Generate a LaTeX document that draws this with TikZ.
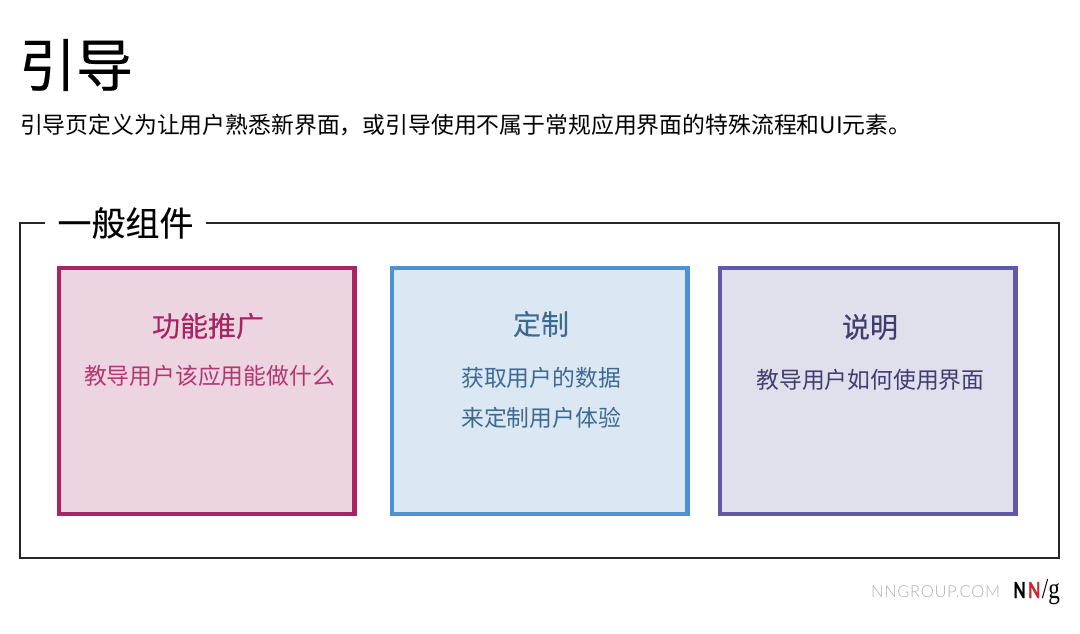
\documentclass[tikz,border=0pt]{standalone}
\usepackage{fontspec}
\setmainfont{Noto Sans CJK SC}
\newfontfamily\medf[FakeBold=0.4]{Noto Sans CJK SC}
\newfontfamily\semif[FakeBold=0.3]{Noto Sans CJK SC}
\newfontfamily\headf[FakeBold=0.2]{Noto Sans CJK SC}
\newfontfamily\latinf{Lato}
\newfontfamily\urlf[LetterSpace=4]{Lato Light}
\newfontfamily\serf{Liberation Serif}
\definecolor{cA}{HTML}{A62562}
\definecolor{cAt}{HTML}{B0386F}
\definecolor{cAf}{HTML}{ECD4E1}
\definecolor{cB}{HTML}{4C92D2}
\definecolor{cBf}{HTML}{DBE8F4}
\definecolor{cBt}{HTML}{3F6A8F}
\definecolor{cC}{HTML}{5E58A6}
\definecolor{cCf}{HTML}{E0DFEC}
\definecolor{cCt}{HTML}{403D70}
\definecolor{cUrl}{HTML}{AEB0BE}
\definecolor{cRed}{HTML}{D2232F}
\tikzset{
 txt/.style={inner sep=0pt,outer sep=0pt},
 card/.style={draw=#1,line width=4.5pt,inner sep=0pt,minimum height=246pt,minimum width=295.5pt},
}
\begin{document}
\begin{tikzpicture}[x=1pt,y=-1pt]
\useasboundingbox (0,0) rectangle (1080,634);
\fill[white] (0,0) rectangle (1080,634);
\node[txt,font=\medf\fontsize{57}{57}\selectfont] (title) at (76,65) {引导};
\node[txt,anchor=west,font=\fontsize{22.85}{24}\selectfont] (sub) at (20,125) {引导页定义为让用户熟悉新界面，或引导使用不属于常规应用界面的特殊流程和UI元素。};
\coordinate (a) at (45,223);
\coordinate (b) at (20,223);
\coordinate (c) at (20,558);
\coordinate (d) at (1059,558);
\coordinate (e) at (1059,223);
\coordinate (f) at (206,223);
\draw[line width=1.5pt,black!85] (a)--(b)--(c)--(d)--(e)--(f);
\node[txt,font=\headf\fontsize{34}{36}\selectfont] (head) at (125.5,223) {一般组件};
\node[card=cA,fill=cAf] (c1) at (206.7,391) {};
\node[card=cB,fill=cBf] (c2) at (539.7,391) {};
\node[card=cC,fill=cCf] (c3) at (867.7,391) {};
\node[txt,text=cA,font=\semif\fontsize{28}{28}\selectfont] (t1) at (208,326) {功能推广};
\node[txt,text=cAt,font=\fontsize{22.8}{24}\selectfont] (d1) at (209.5,376) {教导用户该应用能做什么};
\node[txt,text=cBt,font=\semif\fontsize{28}{28}\selectfont] (t2) at (541,324) {定制};
\node[txt,text=cBt,font=\fontsize{22.8}{24}\selectfont] (d2) at (541,378) {获取用户的数据};
\node[txt,text=cBt,font=\fontsize{22.8}{24}\selectfont] (d2b) at (541,418) {来定制用户体验};
\node[txt,text=cCt,font=\semif\fontsize{28}{28}\selectfont] (t3) at (870,327) {说明};
\node[txt,text=cCt,font=\fontsize{22.8}{24}\selectfont] (d3) at (870.5,380) {教导用户如何使用界面};
\node[txt,anchor=east,text=cUrl,font=\urlf\fontsize{16.5}{18}\selectfont] (url) at (1000,592) {NNGROUP.COM};
\node[txt,anchor=base west,font=\latinf\fontsize{22}{22}\selectfont] (logo) at (1013.5,598) {{\bfseries\addfontfeature{FakeBold=1}\scalebox{0.72}[1]{N}\hspace{2.5pt}\textcolor{cRed}{\scalebox{0.72}[1]{N}}}\hspace{1.5pt}{\serf\fontsize{29}{29}\selectfont\scalebox{0.8}[1]{/g}}};
\end{tikzpicture}
\end{document}
